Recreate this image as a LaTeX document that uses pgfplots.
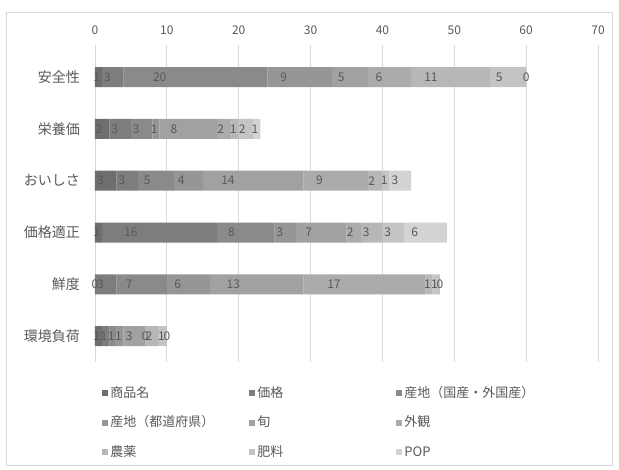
\documentclass[border=0pt]{standalone}
\usepackage{fontspec}
\setmainfont{Noto Sans CJK JP}
\usepackage{pgfplots}
\pgfplotsset{compat=1.18}
\usepackage{pgfplotstable}
\definecolor{c1}{HTML}{6E6E6E}
\definecolor{c2}{HTML}{7D7D7D}
\definecolor{c3}{HTML}{8A8A8A}
\definecolor{c4}{HTML}{969696}
\definecolor{c5}{HTML}{A1A1A1}
\definecolor{c6}{HTML}{ABABAB}
\definecolor{c7}{HTML}{B7B7B7}
\definecolor{c8}{HTML}{C4C4C4}
\definecolor{c9}{HTML}{D3D3D3}
\definecolor{txt}{HTML}{595959}
\definecolor{grd}{HTML}{D9D9D9}

% zero values written as 0.001 so that their "0" labels are still drawn
\pgfplotstableread{
y s1 s2 s3 s4 s5 s6 s7 s8 s9
0 1 3 20 9 5 6 11 5 0.001
1 2 3 3 1 8 2 1 2 1
2 3 3 5 4 14 9 2 1 3
3 1 16 8 3 7 2 3 3 6
4 0.001 3 7 6 13 17 1 1 0.001
5 1 1 1 1 3 0.001 2 1 0.001
}\data

\newcommand{\seg}[2]{%
  \addplot[fill=#2, draw=none, visualization depends on={\thisrow{#1} \as \val}]
    table[x=#1, y=y, meta=#1] {\data};}

\begin{document}
\begin{tikzpicture}
\useasboundingbox (0,0) rectangle (619pt,470pt);
\draw[grd, line width=0.8pt] (6.5pt,4.5pt) rectangle (612.5pt,458pt);
\begin{axis}[
  at={(95pt,108pt)}, anchor=south west,
  scale only axis, width=503pt, height=317pt,
  xbar stacked, bar width=20pt,
  xmin=0, xmax=70, ymin=-0.62, ymax=5.5, y dir=reverse,
  enlargelimits=false,
  xtick={0,10,...,70}, ytick={0,...,5},
  yticklabels={安全性,栄養価,おいしさ,価格適正,鮮度,環境負荷},
  xticklabel pos=upper,
  axis line style={draw=none},
  major tick length=0pt,
  xmajorgrids, grid style={grd, line width=0.8pt},
  /pgf/number format/assume math mode=true,
  tick label style={text=txt, inner sep=0pt},
  xticklabel style={font=\fontsize{12}{12}\selectfont, yshift=10.5pt},
  yticklabel style={font=\fontsize{14}{14}\selectfont, xshift=-15pt},
  point meta=explicit,
  nodes near coords={\pgfmathprintnumber[fixed,precision=0]{\pgfplotspointmeta}},
  nodes near coords style={font=\fontsize{12}{12}\selectfont, text=txt, anchor=center, inner sep=0pt, xshift={-0.25*\val*503pt/70}},
  legend columns=3,
  legend cell align=left,
  legend style={at={(axis description cs:0.0139,-0.0789)}, anchor=north west,
    draw=none, fill=none, inner sep=0pt,
    font=\fontsize{13}{13}\selectfont, text=txt,
    nodes={inner sep=0pt, text width=137pt, text height=10pt, text depth=2pt, align=left},
    /tikz/every odd column/.append style={column sep=2.5pt},
    /tikz/every even column/.append style={column sep=2pt},
    row sep=17.5pt},
  legend image code/.code={\fill[#1] (0pt,-2.8pt) rectangle (5.6pt,2.8pt);},
]
\seg{s1}{c1}
\seg{s2}{c2}
\seg{s3}{c3}
\seg{s4}{c4}
\seg{s5}{c5}
\seg{s6}{c6}
\seg{s7}{c7}
\seg{s8}{c8}
\seg{s9}{c9}
\legend{商品名,価格,産地（国産・外国産）,産地（都道府県）,旬,外観,農薬,肥料,POP}
\end{axis}
\end{tikzpicture}
\end{document}
